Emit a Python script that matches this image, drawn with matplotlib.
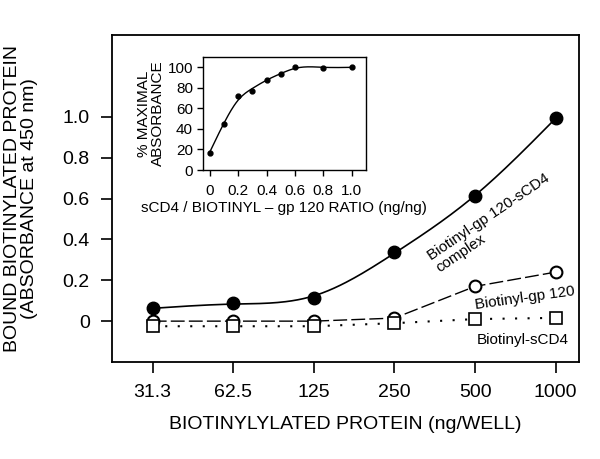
import numpy as np
import matplotlib
matplotlib.use("Agg")
import matplotlib.pyplot as plt

plt.rcParams['font.family'] = ['Liberation Sans', 'DejaVu Sans']

# --- main panel data ---
doses = ["31.3", "62.5", "125", "250", "500", "1000"]
complex_abs = [0.062, 0.090, 0.113, 0.340, 0.610, 0.995]
gp120_abs = [0.0, 0.0, 0.0, 0.015, 0.170, 0.240]
scd4_abs = [-0.025, -0.025, -0.025, -0.010, 0.010, 0.016]

# --- inset data ---
ratio = [0.0, 0.1, 0.2, 0.3, 0.4, 0.5, 0.6, 0.8, 1.0]
pct_max = [17, 45, 72, 77, 88, 93, 100, 99.5, 100]


def smooth_curve(x, y, lam, n=201):
    # penalised (Whittaker-type) smoother evaluated on a fine grid
    x = np.asarray(x, float)
    y = np.asarray(y, float)
    grid = np.linspace(x.min(), x.max(), n)
    h = grid[1] - grid[0]
    W = np.zeros((n, n))
    rhs = np.zeros(n)
    for xi, yi in zip(x, y):
        k = int(round((xi - grid[0]) / h))
        W[k, k] += 1.0
        rhs[k] += yi
    D = np.diff(np.eye(n), 2, axis=0) / h**2
    z = np.linalg.solve(W + lam * h * D.T @ D, rhs)
    return grid, z


fig = plt.figure(figsize=(6, 4.59), dpi=100)
ax = fig.add_axes([0.1867, 0.2113, 0.7783, 0.7124])

idx = np.arange(len(doses))

gx, gy = smooth_curve(idx, complex_abs, 0.02)
ax.plot(gx, gy, color="black", lw=1.2, zorder=2)

ax.plot(idx, gp120_abs, color="black", lw=1.0, ls=(0, (10, 3)), zorder=2)
ax.plot(idx, scd4_abs, color="black", lw=1.5, ls=(0, (1, 5)), zorder=2)

ax.plot(idx, complex_abs, "o", color="black", ms=9, zorder=4)
ax.plot(idx, gp120_abs, "o", mfc="white", mec="black", mew=1.5, ms=8.5, zorder=3)
ax.plot(idx, scd4_abs, "s", mfc="white", mec="black", mew=1.2, ms=8, zorder=4)

ax.set_xlim(-0.505, 5.29)
ax.set_ylim(-0.2, 1.4)
ax.set_xticks(idx)
ax.set_xticklabels(doses)
ax.set_yticks([0, 0.2, 0.4, 0.6, 0.8, 1.0])
ax.set_yticklabels(["0", "0.2", "0.4", "0.6", "0.8", "1.0"])
ax.tick_params(labelsize=14, length=8, width=1.2, pad=8)
for s in ax.spines.values():
    s.set_linewidth(1.3)

ax.set_xlabel("BIOTINYLYLATED PROTEIN (ng/WELL)", fontsize=14)
ax.xaxis.set_label_coords(0.5, -0.165)
ax.xaxis.label.set_va("top")
ax.set_ylabel("BOUND BIOTINYLATED PROTEIN\n(ABSORBANCE at 450 nm)", fontsize=14,
              linespacing=1.0)
ax.yaxis.set_label_coords(-0.158, 0.5)

ax.text(4.22, 0.48, "Biotinyl-gp 120-sCD4\ncomplex", rotation=34, fontsize=11,
        ha="center", va="center", multialignment="left", linespacing=1.0)
ax.text(4.62, 0.115, "Biotinyl-gp 120", rotation=8, fontsize=11,
        ha="center", va="center")
ax.text(4.59, -0.093, "Biotinyl-sCD4", fontsize=11, ha="center", va="center")

# --- inset ---
ins = fig.add_axes([0.3378, 0.6296, 0.2722, 0.2462])
rx, ry = smooth_curve(ratio, pct_max, 0.00015)
ins.plot(rx, ry, color="black", lw=1.0)
ins.plot(ratio, pct_max, "o", color="black", ms=3.5)

ins.set_xlim(-0.051, 1.10)
ins.set_ylim(0, 110)
ins.set_xticks([0, 0.2, 0.4, 0.6, 0.8, 1.0])
ins.set_xticklabels(["0", "0.2", "0.4", "0.6", "0.8", "1.0"])
ins.set_yticks([0, 20, 40, 60, 80, 100])
ins.tick_params(labelsize=11, length=4, width=1.0, pad=3)
ins.tick_params(axis="x", pad=6)
for s in ins.spines.values():
    s.set_linewidth(1.0)
ins.set_xlabel("sCD4 / BIOTINYL \u2013 gp 120 RATIO (ng/ng)", fontsize=11, labelpad=2)
ins.set_ylabel("% MAXIMAL\nABSORBANCE", fontsize=11, labelpad=2, linespacing=1.0)

fig.savefig("out.png", dpi=100)
